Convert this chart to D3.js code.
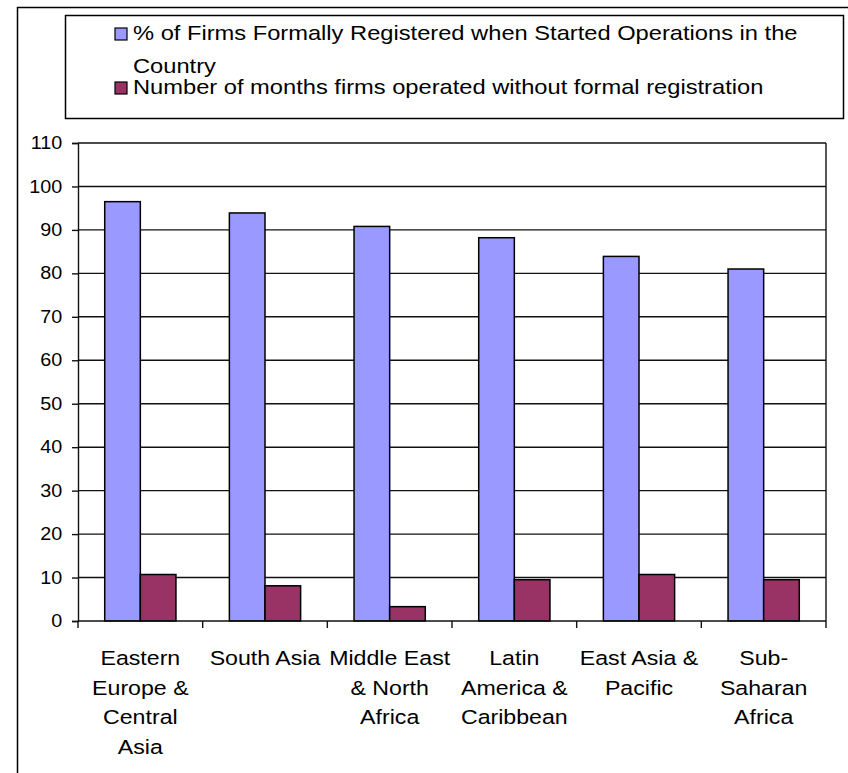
<!DOCTYPE html>
<html>
<head>
<meta charset="utf-8">
<script src="https://cdn.jsdelivr.net/npm/d3@7"></script>
<style>
  body { margin: 0; background: #fff; }
  svg { display: block; font-family: Arial, "Liberation Sans", sans-serif; }
</style>
</head>
<body>
<svg id="chart" width="848" height="773"></svg>
<script>
// Firm registration by region

const regions = [
    'Eastern Europe & Central Asia',
    'South Asia',
    'Middle East & North Africa',
    'Latin America & Caribbean',
    'East Asia & Pacific',
    'Sub-Saharan Africa'
];
// how the axis labels wrap in the original
const regionLines = [
    ['Eastern', 'Europe &', 'Central', 'Asia'],
    ['South Asia'],
    ['Middle East', '& North', 'Africa'],
    ['Latin', 'America &', 'Caribbean'],
    ['East Asia &', 'Pacific'],
    ['Sub-', 'Saharan', 'Africa']
];
const pctRegistered = [96.5, 93.9, 90.8, 88.2, 83.9, 81.0];
const monthsUnregistered = [10.7, 8.1, 3.3, 9.5, 10.7, 9.5];
const seriesNames = [
    '% of Firms Formally Registered when Started Operations in the',
    'Country',
    'Number of months firms operated without formal registration'
];
const yTicks = d3.range(0, 111, 10);

const colors = ['#9999ff', '#993366'];
// the source picture is stretched sideways a little, so text gets widened too
const stretch = 1.13;

const svg = d3.select('#chart');

// outer chart frame
svg.append('rect')
    .attr('x', 17.5).attr('y', 7.5)
    .attr('width', 840).attr('height', 780)
    .attr('fill', 'none').attr('stroke', '#000').attr('stroke-width', 1.5);

// plot area
const plot = { left: 78, right: 826, top: 143, bottom: 621 };

const x = d3.scaleBand()
    .domain(regions)
    .range([plot.left, plot.right])
    .paddingInner(0)
    .paddingOuter(0);

const y = d3.scaleLinear()
    .domain([0, 110])
    .range([plot.bottom, plot.top]);

// gridlines
svg.append('g')
    .selectAll('line')
    .data(yTicks.filter(d => d > 0))
    .enter()
    .append('line')
    .attr('x1', plot.left).attr('x2', plot.right)
    .attr('y1', d => y(d)).attr('y2', d => y(d))
    .attr('stroke', '#111').attr('stroke-width', 1.4);

// right border of plot area
svg.append('line')
    .attr('x1', plot.right).attr('x2', plot.right)
    .attr('y1', plot.top).attr('y2', plot.bottom)
    .attr('stroke', '#111').attr('stroke-width', 1.4);

// bars: gap width 150% like the Excel default
const bw = x.bandwidth() / 3.5;
const groups = svg.append('g')
    .selectAll('g')
    .data(regions)
    .enter()
    .append('g')
    .attr('transform', d => `translate(${x(d) + bw * 0.75},0)`);

groups.append('rect')
    .attr('x', 0)
    .attr('y', (d, i) => y(pctRegistered[i]))
    .attr('width', bw)
    .attr('height', (d, i) => y(0) - y(pctRegistered[i]))
    .attr('fill', colors[0])
    .attr('stroke', '#000').attr('stroke-width', 1.5);

groups.append('rect')
    .attr('x', bw)
    .attr('y', (d, i) => y(monthsUnregistered[i]))
    .attr('width', bw)
    .attr('height', (d, i) => y(0) - y(monthsUnregistered[i]))
    .attr('fill', colors[1])
    .attr('stroke', '#000').attr('stroke-width', 1.5);

// y axis
const yAxis = svg.append('g')
    .attr('transform', `translate(${plot.left},0)`)
    .call(d3.axisLeft(y).tickValues(yTicks).tickSize(6).tickPadding(8));
yAxis.select('.domain').attr('stroke', '#111').attr('stroke-width', 1.4);
yAxis.selectAll('.tick line').attr('stroke', '#111').attr('stroke-width', 1.4);
yAxis.selectAll('.tick text')
    .attr('fill', '#000')
    .attr('transform', `scale(${stretch},1)`)
    .style('font-size', '17.5px')
    .style('font-family', 'Arial, "Liberation Sans", sans-serif');

// x axis with ticks between categories
const xAxis = svg.append('g')
    .attr('transform', `translate(0,${plot.bottom})`);
xAxis.append('line')
    .attr('x1', plot.left).attr('x2', plot.right)
    .attr('stroke', '#111').attr('stroke-width', 1.4);
xAxis.selectAll('line.tk')
    .data(regions.map(d => x(d)).concat([plot.right]))
    .enter()
    .append('line')
    .attr('class', 'tk')
    .attr('x1', d => d).attr('x2', d => d)
    .attr('y1', 0).attr('y2', 7)
    .attr('stroke', '#111').attr('stroke-width', 1.4);

// category labels, one text per wrapped line
const labelData = [];
regions.forEach((r, i) => {
    regionLines[i].forEach((t, j) => {
        labelData.push({ t, cx: x(r) + x.bandwidth() / 2, y: 665 + j * 29.5 });
    });
});
svg.append('g')
    .selectAll('text')
    .data(labelData)
    .enter()
    .append('text')
    .attr('transform', d => `translate(${d.cx},${d.y}) scale(${stretch},1)`)
    .attr('text-anchor', 'middle')
    .style('font-size', '20.5px')
    .attr('fill', '#000')
    .text(d => d.t);

// legend
const legend = svg.append('g');
legend.append('rect')
    .attr('x', 65.5).attr('y', 15.5)
    .attr('width', 778).attr('height', 103)
    .attr('fill', '#fff').attr('stroke', '#000').attr('stroke-width', 1.5);

const legendRows = [
    { swatch: colors[0], text: seriesNames[0], y: 40 },
    { swatch: null, text: seriesNames[1], y: 73 },
    { swatch: colors[1], text: seriesNames[2], y: 94 }
];

legend.selectAll('rect.sw')
    .data(legendRows.filter(d => d.swatch))
    .enter()
    .append('rect')
    .attr('class', 'sw')
    .attr('x', 115).attr('y', d => d.y - 12)
    .attr('width', 12).attr('height', 12)
    .attr('fill', d => d.swatch)
    .attr('stroke', '#000').attr('stroke-width', 1.2);

legend.selectAll('text')
    .data(legendRows)
    .enter()
    .append('text')
    .attr('transform', d => `translate(133,${d.y}) scale(1.185,1)`)
    .style('font-size', '20px')
    .attr('fill', '#000')
    .text(d => d.text);
</script>
</body>
</html>
